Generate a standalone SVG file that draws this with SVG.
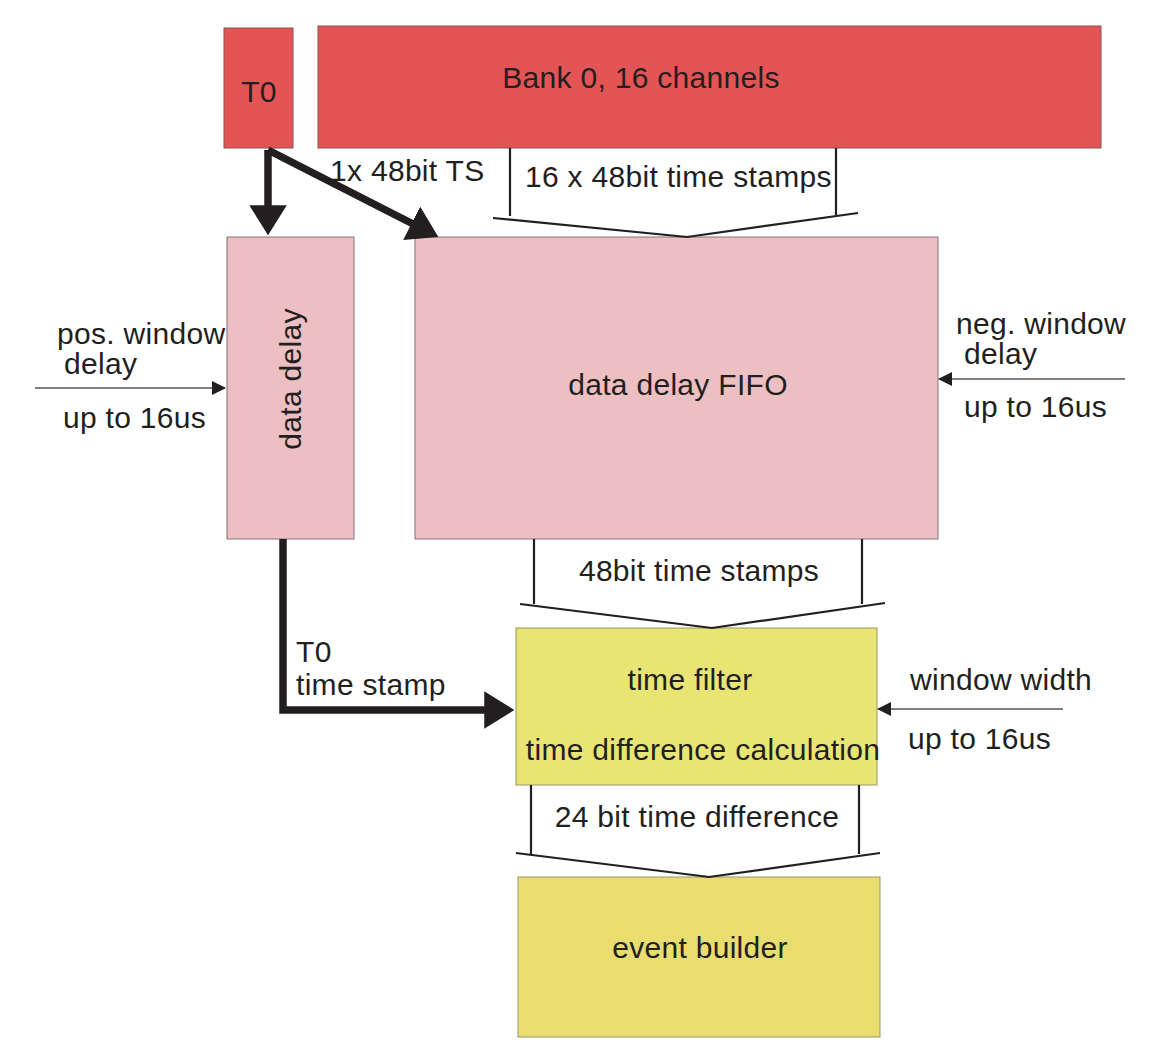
<svg xmlns="http://www.w3.org/2000/svg" width="1170" height="1056" viewBox="0 0 1170 1056">
<style>
text{font-family:"Liberation Sans",Arial,sans-serif;font-size:30px;fill:#231f20;letter-spacing:0.3px}
.red{fill:#e35455;stroke:#8a5050;stroke-width:1}
.pink{fill:#ecbfc2;stroke:#8a7070;stroke-width:1}
.yel{fill:#e8e574;stroke:#9a9860;stroke-width:1}
.yel2{fill:#e8dd6e;stroke:#9a9860;stroke-width:1}
.bus{fill:none;stroke:#231f20;stroke-width:2.2}
.thick{fill:none;stroke:#231f20;stroke-width:7.5}
.thin{fill:none;stroke:#555;stroke-width:1.5}
</style>
<defs>
<marker id="big" markerWidth="4" markerHeight="5" refX="0.5" refY="2.5" orient="auto" markerUnits="strokeWidth" viewBox="0 0 4 5"><path d="M0,0 L4,2.5 L0,5 z" fill="#231f20"/></marker>
<marker id="small" markerWidth="14" markerHeight="14" refX="13" refY="7" orient="auto" markerUnits="userSpaceOnUse" viewBox="0 0 14 14"><path d="M0,0 L14,7 L0,14 z" fill="#231f20"/></marker>
</defs>
<rect width="1170" height="1056" fill="#fff"/>
<g id="t0"><rect class="red" x="224" y="28" width="69" height="120"/><text x="259" y="102" text-anchor="middle">T0</text></g>
<g id="bank"><rect class="red" x="318" y="26" width="783" height="122"/><text x="641" y="88" text-anchor="middle">Bank 0, 16 channels</text></g>
<g id="datadelay"><rect class="pink" x="227" y="237" width="127" height="302"/><text transform="translate(301,379) rotate(-90)" text-anchor="middle">data delay</text></g>
<g id="fifo"><rect class="pink" x="415" y="237" width="523" height="302"/><text x="678" y="395" text-anchor="middle">data delay FIFO</text></g>
<g id="timefilter"><rect class="yel" x="516" y="628" width="361" height="157"/><text x="690" y="690" text-anchor="middle">time filter</text><text x="703" y="760" text-anchor="middle">time difference calculation</text></g>
<g id="eventbuilder"><rect class="yel2" x="518" y="877" width="362" height="160"/><text x="700" y="958" text-anchor="middle">event builder</text></g>
<g id="connectors">
<path class="thick" d="M268,150 L268,209" marker-end="url(#big)"/>
<path class="thick" d="M268,150 L415,225" marker-end="url(#big)"/>
<path class="thick" d="M283,539 L283,710 L488,710" marker-end="url(#big)"/>
<path class="bus" d="M510,148 L510,216 M836,148 L836,215 M493,218 L687,237 L858,213"/>
<path class="bus" d="M534,539 L534,604 M862,539 L862,604 M520,604 L712,628 L885,603"/>
<path class="bus" d="M531,785 L531,854 M859,785 L859,854 M516,853 L709,877 L880,853"/>
<path class="thin" d="M35,388 L225,388" marker-end="url(#small)"/>
<path class="thin" d="M1125,379 L939,379" marker-end="url(#small)"/>
<path class="thin" d="M1063,709 L878,709" marker-end="url(#small)"/>
</g>
<g id="labels">
<text x="330" y="181">1x 48bit TS</text>
<text x="525" y="187">16 x 48bit time stamps</text>
<text x="57" y="344">pos. window</text>
<text x="64" y="374">delay</text>
<text x="63" y="428">up to 16us</text>
<text x="956" y="334">neg. window</text>
<text x="964" y="364">delay</text>
<text x="964" y="417">up to 16us</text>
<text x="699" y="581" text-anchor="middle">48bit time stamps</text>
<text x="296" y="662">T0</text>
<text x="296" y="695">time stamp</text>
<text x="910" y="690">window width</text>
<text x="908" y="749">up to 16us</text>
<text x="697" y="827" text-anchor="middle">24 bit time difference</text>
</g>
</svg>
